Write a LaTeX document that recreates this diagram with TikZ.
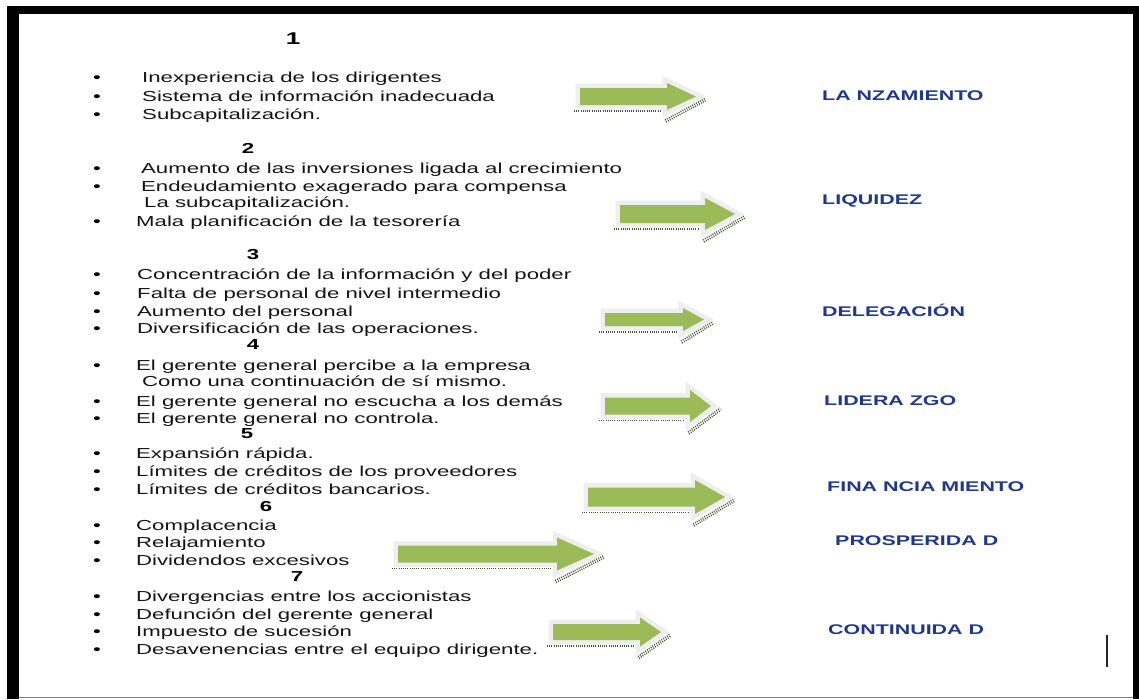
\documentclass[tikz,border=0pt]{standalone}
\usepackage{fontspec}
\setmainfont{Liberation Sans}[FakeStretch=1.53]
\definecolor{lblue}{RGB}{31,56,140}
\definecolor{agreen}{RGB}{155,187,89}
\definecolor{ashadow}{RGB}{238,238,238}
\definecolor{adot}{RGB}{70,85,45}
\tikzset{
  txt/.style={anchor=base west,inner sep=0pt,font=\fontsize{14.5}{17}\selectfont,text=black!92},
  bul/.style={anchor=base,inner sep=0pt,font=\fontsize{14.5}{17}\selectfont},
  num/.style={anchor=center,inner sep=0pt,font=\fontsize{14.5}{17}\selectfont\bfseries},
  lab/.style={anchor=west,inner sep=0pt,font=\fontsize{14}{17}\selectfont\bfseries,text=lblue},
  ashape/.style={fill=agreen},
  ashade/.style={draw=ashadow,fill=ashadow,line width=9pt,line join=miter},
  adotted/.style={draw=adot,line width=1.4pt,dash pattern=on 1pt off 1.2pt}
}
\newcommand{\itm}[4]{\node[bul] (b#1) at (97,{#2+5}) {\textbullet}; \node[txt] (t#1) at (#3,{#2+5}) {#4};}
\newcommand{\cnt}[4]{\node[txt] (t#1) at (#3,{#2+5}) {#4};}
% x1, xh, xt, yc, sh, hh
\newcommand{\garrow}[6]{%
  \path[ashade] (#1,{#4-#5}) -- (#2,{#4-#5}) -- (#2,{#4-#6}) -- (#3,#4) -- (#2,{#4+#6}) -- (#2,{#4+#5}) -- (#1,{#4+#5}) -- cycle;
  \path[ashape] (#1,{#4-#5}) -- (#2,{#4-#5}) -- (#2,{#4-#6}) -- (#3,#4) -- (#2,{#4+#6}) -- (#2,{#4+#5}) -- (#1,{#4+#5}) -- cycle;
  \draw[adotted] ({#1-6},{#4+#5+6}) -- ({#2-6},{#4+#5+6});
  \draw[adotted] ({#2-2},{#4+#6+10}) -- ({#3+9},{#4+2});
  \draw[adotted] ({#2-1},{#4+#6+12}) -- ({#3+10},{#4+4});
}
\begin{document}
\begin{tikzpicture}[x=1pt,y=-1pt]
\useasboundingbox (0,0) rectangle (1139,699);
% frame
\fill[black] (7,6) rectangle (1139,14);
\fill[black] (7,6) rectangle (19,699);
\fill[black] (1133,6) rectangle (1139,699);
\draw[gray,line width=1pt] (19,697.5) -- (1133,697.5);
\draw[black!85,line width=2pt] (1107,635) -- (1107,667);

% numbers
\node[num,font=\fontsize{17}{20}\selectfont\bfseries] (n1) at (293,39) {1};
\node[num] (n2) at (248,148) {2};
\node[num] (n3) at (253,255) {3};
\node[num] (n4) at (253,345) {4};
\node[num] (n5) at (247,434) {5};
\node[num] (n6) at (266,506) {6};
\node[num] (n7) at (297,577) {7};

% group 1
\itm{a1}{77}{142}{Inexperiencia de los dirigentes}
\itm{a2}{96}{142}{Sistema de información inadecuada}
\itm{a3}{114}{142}{Subcapitalización.}
% group 2
\itm{b1}{168}{141}{Aumento de las inversiones ligada al crecimiento}
\itm{b2}{186}{141}{Endeudamiento exagerado para compensa}
\cnt{b3}{202}{144}{La subcapitalización.}
\itm{b4}{221}{136}{Mala planificación de la tesorería}
% group 3
\itm{c1}{274}{137}{Concentración de la información y del poder}
\itm{c2}{293}{137}{Falta de personal de nivel intermedio}
\itm{c3}{311}{137}{Aumento del personal}
\itm{c4}{328}{137}{Diversificación de las operaciones.}
% group 4
\itm{d1}{365}{136}{El gerente general percibe a la empresa}
\cnt{d2}{381}{142}{Como una continuación de sí mismo.}
\itm{d3}{401}{136}{El gerente general no escucha a los demás}
\itm{d4}{418}{136}{El gerente general no controla.}
% group 5
\itm{e1}{453}{136}{Expansión rápida.}
\itm{e2}{471}{136}{Límites de créditos de los proveedores}
\itm{e3}{489}{136}{Límites de créditos bancarios.}
% group 6
\itm{f1}{525}{136}{Complacencia}
\itm{f2}{542}{136}{Relajamiento}
\itm{f3}{560}{136}{Dividendos excesivos}
% group 7
\itm{g1}{596}{136}{Divergencias entre los accionistas}
\itm{g2}{614}{136}{Defunción del gerente general}
\itm{g3}{631}{136}{Impuesto de sucesión}
\itm{g4}{649}{136}{Desavenencias entre el equipo dirigente.}

% arrows
\garrow{580}{667}{696}{96.5}{8.5}{13.5}
\garrow{620}{705}{735}{214}{9}{16}
\garrow{605}{683}{704}{319.5}{6.5}{11.5}
\garrow{605}{690}{711}{406}{8.5}{16}
\garrow{588}{695}{725}{497}{9.5}{17}
\garrow{398}{557}{594}{554}{8.5}{16.5}
\garrow{553}{640}{661}{632}{8}{14.5}

% labels
\node[lab] (L1) at (822,96) {LA NZAMIENTO};
\node[lab] (L2) at (822,201) {LIQUIDEZ};
\node[lab] (L3) at (822,310) {DELEGACIÓN};
\node[lab] (L4) at (824,401) {LIDERA ZGO};
\node[lab] (L5) at (827,487) {FINA NCIA MIENTO};
\node[lab] (L6) at (835,541) {PROSPERIDA D};
\node[lab] (L7) at (828,630) {CONTINUIDA D};
\end{tikzpicture}
\end{document}
